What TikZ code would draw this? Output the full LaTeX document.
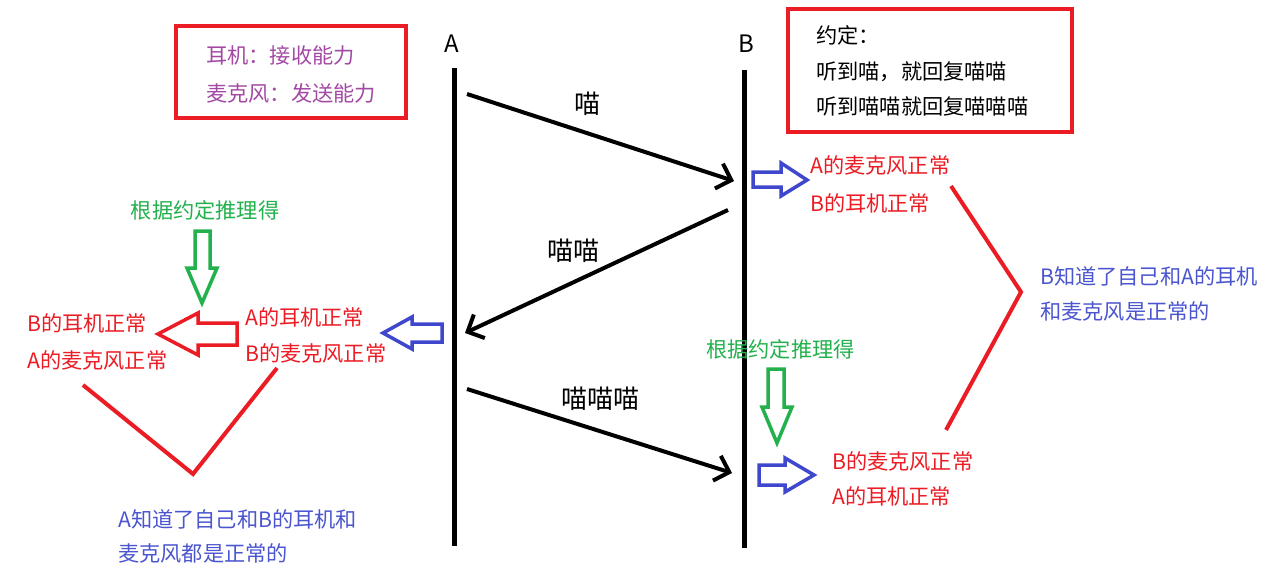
\documentclass[tikz,border=0pt]{standalone}
\usepackage{fontspec}
\setmainfont{Noto Sans CJK SC}
\usetikzlibrary{arrows.meta}
\definecolor{pred}{HTML}{EC1C24}
\definecolor{ppurple}{HTML}{A349A4}
\definecolor{pblue}{HTML}{3F48CC}
\definecolor{tblue}{HTML}{4A55CF}
\definecolor{pgreen}{HTML}{22B14C}
\tikzset{
  txt/.style={inner sep=0pt, anchor=west, align=left, font=\fontsize{21.2}{#1}\selectfont},
  txt/.default=37,
  redbox/.style={draw=pred, line width=4pt},
  lifeline/.style={draw=black, line width=5pt},
  msg/.style={draw=black, line width=4pt, -{Straight Barb[length=13pt,width=26pt,line width=4pt]}},
  msglabel/.style={inner sep=0pt, font=\fontsize{26}{30}\selectfont},
  hollow/.style={draw=#1, line width=3.5pt, line join=miter},
  vline/.style={draw=pred, line width=4pt, line join=miter},
}
\begin{document}
\begin{tikzpicture}[x=1pt,y=-1pt]
\useasboundingbox[fill=white] (0,0) rectangle (1285,586);

% boxes
\draw[redbox] (176,26) rectangle (406,118);
\node[txt=38, text=ppurple] (caps) at (206,74) {耳机：接收能力\\麦克风：发送能力};
\draw[redbox] (788,9) rectangle (1072,132);
\node[txt=35.5, text=black] (rule) at (816,71) {约定：\\听到喵，就回复喵喵\\听到喵喵就回复喵喵喵};

% lifelines
\node[inner sep=0pt, font=\fontsize{24}{28}\selectfont] (A) at (452,44) {A};
\node[inner sep=0pt, font=\fontsize{24}{28}\selectfont] (B) at (746,44) {B};
\coordinate (Atop) at (454,68);
\coordinate (Abot) at (454,546);
\coordinate (Btop) at (744,70);
\coordinate (Bbot) at (744,548);
\draw[lifeline] (Atop) -- (Abot);
\draw[lifeline] (Btop) -- (Bbot);

% messages
\coordinate (m1s) at (467,94);
\coordinate (m1e) at (734,181);
\coordinate (m2s) at (728,210);
\coordinate (m2e) at (465,333);
\coordinate (m3s) at (467,389);
\coordinate (m3e) at (732,473);
\draw[msg] (m1s) -- (m1e);
\draw[msg] (m2s) -- (m2e);
\draw[msg] (m3s) -- (m3e);
\node[msglabel] (l1) at (587,104) {喵};
\node[msglabel] (l2) at (573,251) {喵喵};
\node[msglabel] (l3) at (600,399) {喵喵喵};

% right top
\draw[hollow=pblue] (753,172) -- (781,172) -- (781,163) -- (807,180) -- (781,196) -- (781,187) -- (753,187) -- cycle;
\node[txt=38, text=pred] (r1) at (810,184) {A的麦克风正常\\B的耳机正常};

% right bracket
\draw[vline] (951,186) -- (1021,292) -- (946,430);
\node[txt=35, text=tblue] (knowB) at (1040,293.5) {B知道了自己和A的耳机\\和麦克风是正常的};

% right bottom
\node[txt, text=pgreen] (g2) at (706,349) {根据约定推理得};
\draw[hollow=pgreen] (768,369) -- (784,369) -- (784,407) -- (792,407) -- (777,443) -- (762,407) -- (768,407) -- cycle;
\draw[hollow=pblue] (759,465) -- (785,465) -- (785,458) -- (814,475) -- (785,492) -- (785,485) -- (759,485) -- cycle;
\node[txt=35, text=pred] (r3) at (832,478.5) {B的麦克风正常\\A的耳机正常};

% left side
\draw[hollow=pblue] (442,324) -- (412,324) -- (412,317) -- (383,333) -- (412,349) -- (412,342) -- (442,342) -- cycle;
\node[txt=36, text=pred] (r2) at (245,335) {A的耳机正常\\B的麦克风正常};
\draw[hollow=pred] (237,323) -- (198,323) -- (198,313) -- (158,334) -- (198,355) -- (198,345) -- (237,345) -- cycle;
\node[txt=37, text=pred] (r4) at (27,341.5) {B的耳机正常\\A的麦克风正常};
\node[inner sep=0pt, text=pgreen, font=\fontsize{21.2}{25}\selectfont] (g1) at (205,210) {根据约定推理得};
\draw[hollow=pgreen] (195,231) -- (210,231) -- (210,268) -- (217,268) -- (202,303) -- (187,268) -- (195,268) -- cycle;

% left V
\draw[vline] (83,385) -- (193,474) -- (277,368);
\node[txt=34, text=tblue] (knowA) at (118,536) {A知道了自己和B的耳机和\\麦克风都是正常的};
\end{tikzpicture}
\end{document}
